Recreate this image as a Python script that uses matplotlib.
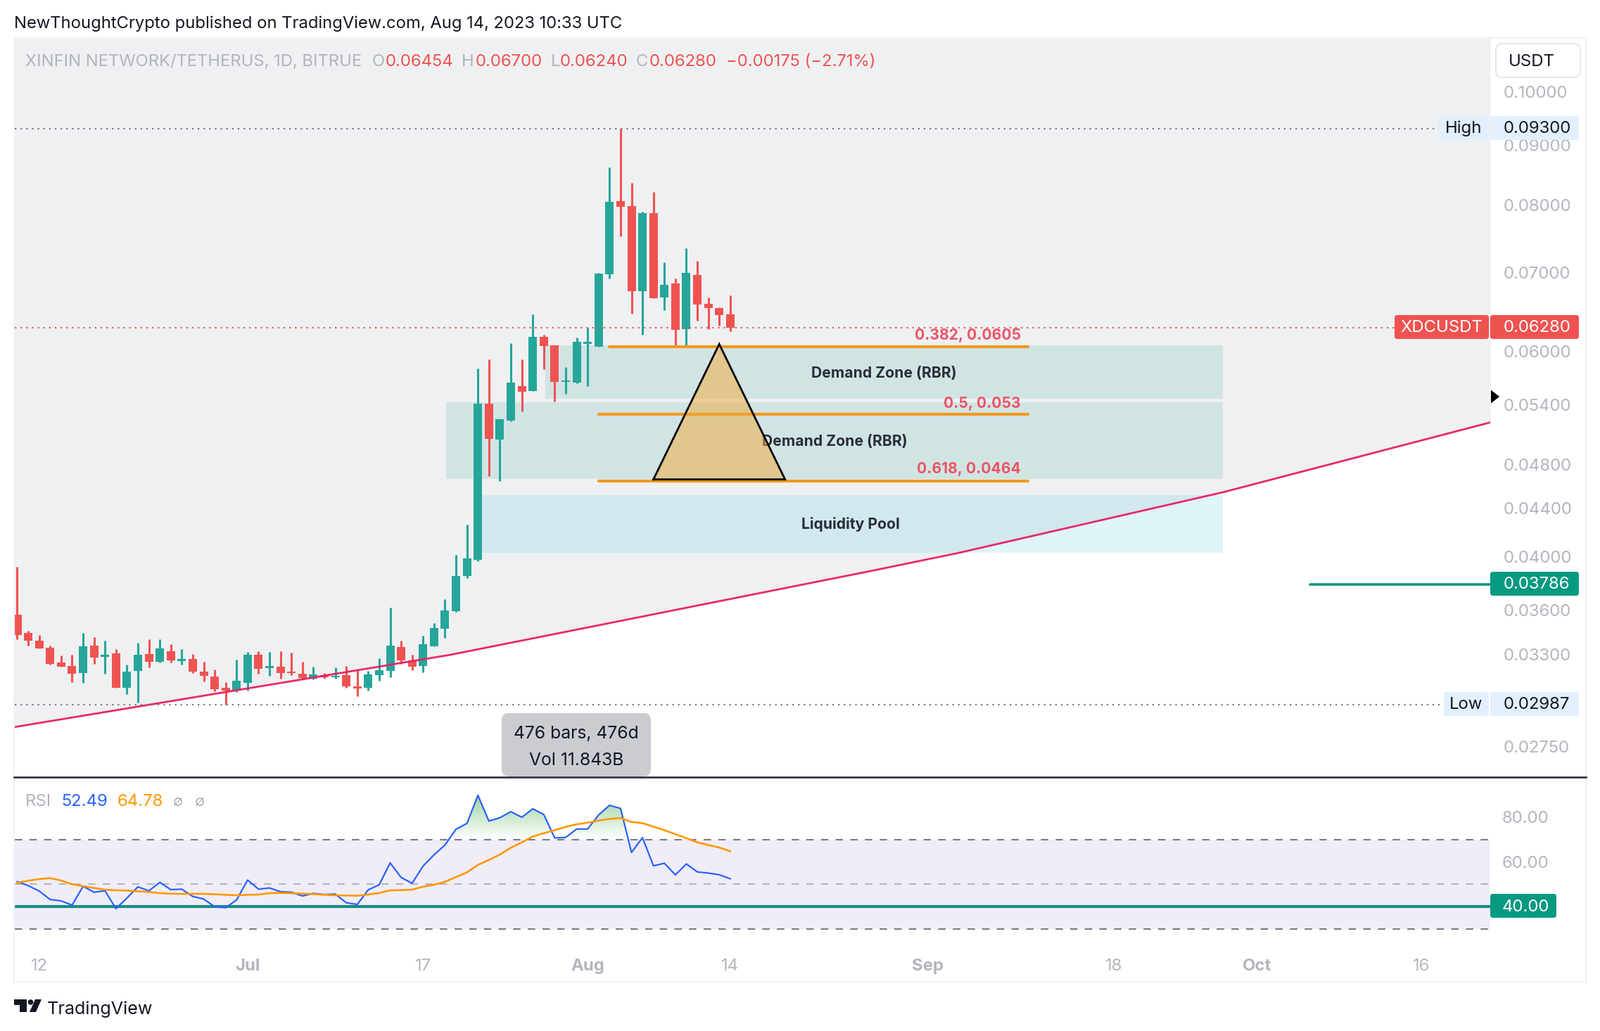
import numpy as np
import matplotlib
matplotlib.use("Agg")
import matplotlib.pyplot as plt
from matplotlib.patches import FancyBboxPatch, Polygon, Circle, PathPatch
from matplotlib.path import Path
from matplotlib.ticker import NullFormatter, NullLocator

plt.rcParams["font.family"] = "Inter"

# ---------- data ----------
opens = [.03569,.03442,.03390,.03343,.03247,.03225,.03180,.03357,.03283,.03306,.03088,.03193,.03301,.03252,.03320,.03256,.03270,.03189,.03157,.03088,
         .03071,.03118,.03297,.03211,.03220,.03189,.03175,.03144,.03166,.03153,.03166,.03097,.03088,.03166,.03193,.03348,.03261,.03225,.03352,.03470,
         .03594,.03853,.03973,.05411,.05040,.05233,.05602,.05541,.06168,.06066,.05642,.05635,.06083,.06049,.06981,.08068,.07990,.06752,.07880,.06668,
         .06856,.06263,.06972,.06585,.06530,.06454]
highs = [.03918,.03456,.03428,.03357,.03292,.03297,.03442,.03414,.03390,.03334,.03234,.03376,.03400,.03400,.03367,.03334,.03301,.03252,.03202,.03123,
         .03265,.03315,.03320,.03315,.03320,.03310,.03252,.03220,.03180,.03216,.03225,.03202,.03193,.03274,.03618,.03390,.03297,.03423,.03510,.03680,
         .04012,.04259,.05793,.05898,.05248,.06091,.05898,.06449,.06194,.06066,.05810,.06159,.06281,.07001,.08613,.09300,.08354,.07901,.08204,.07148,
         .06923,.07350,.07168,.06668,.06539,.06700]
lows = [.03400,.03357,.03339,.03234,.03220,.03123,.03118,.03238,.03175,.03088,.03050,.02999,.03216,.03247,.03247,.03234,.03180,.03127,.03067,.02987,
        .03063,.03071,.03175,.03162,.03144,.03166,.03144,.03140,.03144,.03144,.03088,.03037,.03071,.03131,.03153,.03238,.03198,.03184,.03352,.03409,
        .03587,.03832,.03966,.04688,.04643,.05226,.05329,.05541,.05786,.05434,.05511,.05627,.05596,.06049,.06923,.07526,.06458,.06194,.06659,.06503,
        .06049,.06057,.06369,.06263,.06307,.06240]
closes = [.03428,.03390,.03339,.03238,.03220,.03175,.03352,.03279,.03297,.03088,.03189,.03297,.03252,.03339,.03261,.03270,.03189,.03162,.03080,.03071,
          .03131,.03297,.03207,.03225,.03180,.03180,.03148,.03171,.03153,.03162,.03097,.03084,.03171,.03198,.03357,.03261,.03220,.03367,.03475,.03598,
          .03853,.03984,.05411,.05047,.05248,.05634,.05540,.06168,.06057,.05642,.05658,.06108,.06108,.06991,.08057,.07979,.06752,.07880,.06659,.06837,
          .06254,.07001,.06576,.06530,.06440,.06280]

rsi = [51.18,49.39,46.98,43.21,42.58,40.69,49.08,46.46,47.09,39.12,43.84,48.87,47.09,50.86,47.61,47.82,44.57,43.42,39.96,39.54,
       43.00,51.91,47.82,48.35,46.67,46.46,44.78,45.93,45.41,45.62,41.74,41.01,47.51,49.81,59.56,53.06,50.44,58.16,63.19,67.59,
       74.62,77.24,89.81,78.28,79.75,82.48,79.96,83.74,81.22,70.74,70.95,74.72,74.72,81.01,85.31,83.94,64.24,70.84,58.26,59.42,
       54.18,59.10,55.54,55.01,54.28,52.49]
rsi_ma = [50.65,51.60,52.33,52.75,51.70,50.02,49.18,48.35,47.61,47.30,47.19,46.88,46.56,46.04,45.83,45.73,45.73,45.73,45.52,45.31,
          45.10,45.31,45.41,46.04,46.14,46.04,45.83,45.62,45.31,45.10,44.99,44.89,45.41,46.14,47.30,47.40,47.61,48.93,49.77,51.14,
          53.23,55.33,58.68,60.88,63.30,66.33,68.75,71.37,72.83,74.20,75.66,76.82,77.55,78.49,79.23,79.65,77.87,77.34,75.77,74.20,
          72.41,70.63,68.75,67.59,66.44,64.78]

trend_x = [-0.29, 39.48, 77.97, 85.79, 109.9, 134.3]
trend_p = [.02858, .03296, .03891, .04029, .04541, .05212]

price_ticks = [.10, .09, .08, .07, .06, .054, .048, .044, .04, .036, .033, .0275]
rsi_ticks = [80, 60, 40]
time_ticks = [2, 21, 37, 52, 65, 83, 100, 113, 128]
time_labels = ["12", "Jul", "17", "Aug", "14", "Sep", "18", "Oct", "16"]
bold_labels = ["Jul", "Aug", "Sep", "Oct"]

high_p, low_p, last_p, mark_p = .093, .02987, .0628, .03786
fib_p = [.0605, .053, .0464]
fib_left = [54, 53, 53]
fib_right = 92.14
fib_text = ["0.382, 0.0605", "0.5, 0.053", "0.618, 0.0464"]
zones = [(48.14, 109.9, .05464, .06065), (39.1, 109.9, .04663, .05426)]
pool = (42.1, 109.9, .04029, .04516)
tri_x = [58, 64, 70]
tri_p = [.04658, .06082, .04658]

# ---------- layout ----------
W, H = 2274, 1466
XLIM = (-0.2245, 134.29)
def pos(x0, y0, x1, y1):
    return [x0 / W, 1 - y1 / H, (x1 - x0) / W, (y1 - y0) / H]

fig = plt.figure(figsize=(W / 100, H / 100), dpi=100, facecolor="white")
ax = fig.add_axes(pos(21, 54.75, 2118, 1107.5))
rx = fig.add_axes(pos(21, 1108, 2118, 1352))
ov = fig.add_axes([0, 0, 1, 1], zorder=10)
ov.set_xlim(0, W); ov.set_ylim(H, 0); ov.axis("off"); ov.patch.set_alpha(0)

FS = 17.2
TICK = "#B2B5BE"; DARK = "#131722"; RED = "#EF5350"; GREEN = "#26A69A"; TEAL = "#089981"; GREY = "#787B86"

# ---------- price pane ----------
ax.set_yscale("log")
ax.set_xlim(*XLIM); ax.set_ylim(.025808, .11111)
for s in ax.spines.values(): s.set_visible(False)
ax.set_facecolor("white")
ax.fill_between(trend_x, trend_p, .11111, color="#EFF0F2", lw=0, zorder=0)

for x0, x1, p0, p1 in zones:
    ax.fill_between([x0, x1], p0, p1, color=GREEN, alpha=.15, lw=0, zorder=1)
ax.fill_between(pool[:2], pool[2], pool[3], color="#2CC0D4", alpha=.15, lw=0, zorder=1)

idx = np.arange(len(opens))
o, h, l, c = map(np.array, (opens, highs, lows, closes))
cols = [GREEN if b >= a else RED for a, b in zip(o, c)]
ax.vlines(idx, l, h, colors=cols, lw=2.2, zorder=2)
ax.bar(idx, np.abs(c - o), bottom=np.minimum(o, c), width=.77, color=cols, lw=0, zorder=2.1)

ax.plot(trend_x, trend_p, color="#E91E63", lw=2.0, zorder=3, alpha=.95)

dots = (0, (1.1, 2.8))
ax.plot([XLIM[0], 129.5], [high_p] * 2, color=GREY, lw=1.5, ls=dots, zorder=3)
ax.plot([XLIM[0], 130.05], [low_p] * 2, color=GREY, lw=1.5, ls=dots, zorder=3)
ax.plot([XLIM[0], 125.6], [last_p] * 2, color=RED, lw=1.5, ls=dots, zorder=3)
ax.plot([117.9, XLIM[1]], [mark_p] * 2, color=TEAL, lw=2.6, zorder=3, solid_capstyle="round")

for p, x0 in zip(fib_p, fib_left):
    ax.plot([x0, fib_right], [p, p], color="#F09A1E", lw=3.0, zorder=4, solid_capstyle="round")

ax.fill(tri_x, tri_p, facecolor="#F1AB3A", alpha=.5, lw=0, zorder=5)
ax.plot(tri_x + tri_x[:1], tri_p + tri_p[:1], color="black", lw=2.0, zorder=5.1, solid_joinstyle="miter")

ax.yaxis.tick_right()
ax.set_yticks(price_ticks)
ax.set_yticklabels([f"{t:.5f}" for t in price_ticks])
ax.yaxis.set_minor_locator(NullLocator()); ax.yaxis.set_minor_formatter(NullFormatter())
ax.tick_params(axis="y", length=0, pad=13.5, labelsize=FS, labelcolor=TICK)
ax.set_xticks([])

for txt_, x, y in (("Demand Zone (RBR)", 1256, 531), ("Demand Zone (RBR)", 1186, 628), ("Liquidity Pool", 1209, 746)):
    ax.text(x, y, txt_, transform=ov.transData, ha="center", va="center", fontsize=15.2, fontweight="bold",
            color="#2A2E39", zorder=4.5, clip_on=False)

# ---------- RSI pane ----------
rx.set_xlim(*XLIM); rx.set_ylim(20.25, 96.98)
for s in rx.spines.values(): s.set_visible(False)
rx.axhspan(30, 70, color="#F0EDF8", lw=0, zorder=0)
dash = (0, (5, 5))
rx.axhline(70, color=GREY, lw=1.5, ls=dash, zorder=1)
rx.axhline(30, color=GREY, lw=1.5, ls=dash, zorder=1)
rx.axhline(50, color="#B5B3BD", lw=1.5, ls=dash, zorder=1)
rx.axhline(40, color="#128D80", lw=3.0, zorder=1.5)

r = np.array(rsi)
fb = rx.fill_between(idx, r, 70, where=r >= 70, interpolate=True, facecolor="none", lw=0)
clip = Path.make_compound_path(*fb.get_paths())
grad = np.zeros((64, 1, 4))
grad[..., 0], grad[..., 1], grad[..., 2] = 76 / 255, 175 / 255, 80 / 255
grad[:, 0, 3] = np.linspace(0, .55, 64)
im = rx.imshow(grad, extent=[idx[0], idx[-1], 70, 90], origin="lower", aspect="auto", zorder=1.2, interpolation="bilinear")
im.set_clip_path(PathPatch(clip, transform=rx.transData))
rx.set_xlim(*XLIM); rx.set_ylim(20.25, 96.98)

rx.plot(idx, rsi, color="#2962FF", lw=1.6, zorder=3)
rx.plot(idx, rsi_ma, color="#FF9800", lw=1.9, zorder=3.1)

rx.yaxis.tick_right()
rx.set_yticks(rsi_ticks)
rx.set_yticklabels([f"{t:.2f}" for t in rsi_ticks])
rx.tick_params(axis="y", length=0, pad=12, labelsize=FS, labelcolor=TICK)
rx.set_xticks(time_ticks)
rx.set_xticklabels(time_labels)
rx.tick_params(axis="x", length=0, pad=8, labelsize=FS, labelcolor=TICK)
for lab in rx.get_xticklabels():
    if lab.get_text() in bold_labels:
        lab.set_fontweight("bold")

# ---------- chrome ----------
def box(x0, y0, x1, y1, fc, r=4, ec="none", lw=0, z=2):
    ov.add_patch(FancyBboxPatch((x0 + r, y0 + r), x1 - x0 - 2 * r, y1 - y0 - 2 * r, boxstyle=f"round,pad={r},rounding_size={r}",
                                fc=fc, ec=ec, lw=lw, zorder=z))
def txt(x, y, s, color=DARK, ha="left", fs=FS, **kw):
    return ov.text(x, y + 2, s, color=color, ha=ha, va="center", fontsize=fs, **kw)

ov.add_patch(plt.Rectangle((20, 54), 2234, 1342, fc="none", ec="#F0F3FA", lw=1.6, zorder=1))
ov.plot([20, 2254], [1105, 1105], color="#2A2E39", lw=1.9, zorder=1.5)

txt(20, 32, "NewThoughtCrypto published on TradingView.com, Aug 14, 2023 10:33 UTC", fs=17.1)
txt(36, 86, "XINFIN NETWORK/TETHERUS, 1D, BITRUE", color=TICK, fs=17.1)
for x, s, col in ((529, "O", TICK), (548, "0.06454", RED), (656, "H", TICK), (676, "0.06700", RED), (783, "L", TICK), (796, "0.06240", RED),
                  (904, "C", TICK), (923, "0.06280", RED), (1032, "\u22120.00175 (\u22122.71%)", RED)):
    txt(x, 86, s, color=col)

box(2126, 62, 2246, 110, "white", r=9, ec="#E0E3EB", lw=1.2)
txt(2144, 86, "USDT")

box(2044, 165, 2116, 199, "#E3EFFD"); box(2118, 165, 2244, 199, "#E3EFFD")
txt(2080, 181, "High", ha="center"); txt(2137, 181, "0.09300")
box(1982, 448, 2116, 482, RED); box(2118, 448, 2244, 482, RED)
txt(2049, 463.5, "XDCUSDT", color="white", ha="center"); txt(2137, 463.5, "0.06280", color="white")
box(2118, 813, 2244, 847, TEAL); txt(2137, 829, "0.03786", color="white")
box(2052, 984, 2116, 1018, "#E3EFFD"); box(2118, 984, 2244, 1018, "#E3EFFD")
txt(2084, 999.5, "Low", ha="center"); txt(2137, 999.5, "0.02987")
box(2118, 1271, 2212, 1305, TEAL); txt(2135, 1288, "40.00", color="white")

ov.add_patch(Polygon([(2119, 554.5), (2131, 564), (2119, 573.5)], fc="black", ec="none"))

for s, y in zip(fib_text, (475, 572, 665)):
    txt(1451, y, s, color="#EB5565", ha="right", fs=15.2, fontweight="bold")

box(713, 1014, 925, 1104, "#CBCCD2", r=10, z=1.2)
txt(819, 1041, "476 bars, 476d", ha="center", fs=17.8)
txt(819, 1080, "Vol 11.843B", ha="center", fs=17.8)

txt(36, 1138, "RSI", color=TICK)
txt(87, 1138, "52.49", color="#2962FF")
txt(167, 1138, "64.78", color="#FF9800")
txt(245, 1138, "\u2205", color=TICK, fs=15)
txt(276, 1138, "\u2205", color=TICK, fs=15)

# logo
logo = "#131722"
ov.add_patch(Polygon([(20, 1421), (38, 1421), (38, 1439), (28, 1439), (28, 1428.5), (20, 1428.5)], fc=logo, ec="none"))
ov.add_patch(Circle((43.5, 1425), 3.8, fc=logo, ec="none"))
ov.add_patch(Polygon([(50, 1421), (59, 1421), (51, 1439), (42, 1439)], fc=logo, ec="none"))
txt(67, 1433, "TradingView", fs=18.1)

fig.savefig("out.png", dpi=100, facecolor="white")
